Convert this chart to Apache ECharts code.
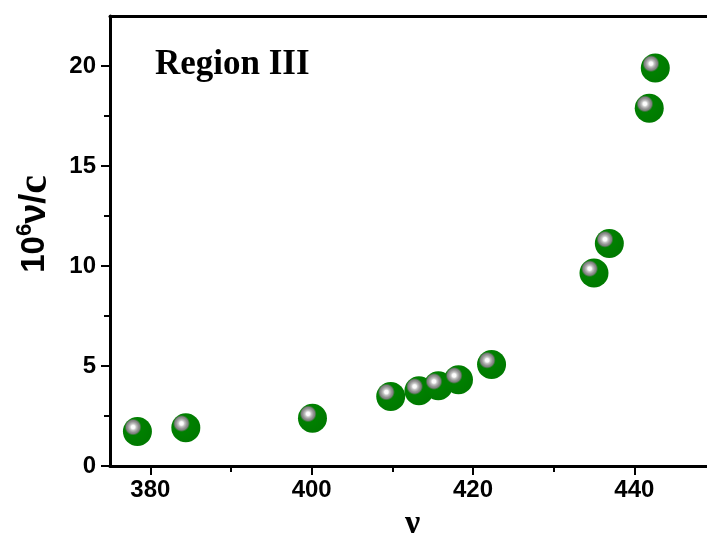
<!DOCTYPE html>
<html>
<head>
<meta charset="utf-8">
<script src="https://cdn.jsdelivr.net/npm/echarts@6/dist/echarts.min.js"></script>
<style>
  html, body { margin: 0; padding: 0; background: #fff; }
  #chart { width: 707px; height: 544px; }
</style>
</head>
<body>
<div id="chart"></div>
<script>
// data
const nu = [378.4, 384.4, 400.1, 409.8, 413.3, 415.7, 418.2, 422.3, 435.0, 436.9, 441.85, 442.6]
const ratio = [1.73, 1.91, 2.39, 3.48, 3.76, 4.01, 4.31, 5.07, 9.65, 11.12, 17.89, 19.9]

const xTicks = [380, 400, 420, 440]
const xMinor = [390, 410, 430]
const yTicks = [0, 5, 10, 15, 20]
const yMinor = [2.5, 7.5, 12.5, 17.5]

const chart = echarts.init(document.getElementById('chart'))

const sans = 'Liberation Sans, Arial, sans-serif'
const serif = 'Liberation Serif, Times New Roman, serif'

// green ball with a grey highlight up-left
const sphere = {
  type: 'radial', x: 0.35, y: 0.35, r: 0.62,
  colorStops: [
    { offset: 0, color: '#ffffff' },
    { offset: 0.1, color: '#fafafa' },
    { offset: 0.18, color: '#c4c4c4' },
    { offset: 0.3, color: '#939393' },
    { offset: 0.37, color: '#808080' },
    { offset: 0.42, color: '#3a7a3a' },
    { offset: 0.47, color: '#008000' },
    { offset: 1, color: '#007a00' }
  ]
}

const lineStyle = { color: '#000', width: 3 }

chart.setOption({
  animation: false,
  grid: { left: 110, top: 16, width: 605, bottom: 78, outerBoundsMode: 'none', containLabel: false },
  xAxis: [
    {
      type: 'value', min: 375, max: 450, position: 'bottom',
      name: 'ν', nameLocation: 'middle', nameGap: 38,
      nameTextStyle: { fontFamily: serif, fontWeight: 'bold', fontSize: 34, color: '#000' },
      axisLine: { show: true, onZero: false, lineStyle },
      axisTick: { show: true, customValues: xTicks, length: 9, lineStyle: { color: '#000', width: 2 } },
      axisLabel: { customValues: xTicks, margin: 12, fontFamily: sans, fontWeight: 'bold', fontSize: 24, color: '#000' },
      splitLine: { show: false }
    },
    {
      // minor ticks
      type: 'value', min: 375, max: 450, position: 'bottom',
      axisLine: { show: false },
      axisTick: { show: true, customValues: xMinor, length: 6, lineStyle: { color: '#000', width: 2 } },
      axisLabel: { show: false },
      splitLine: { show: false }
    },
    {
      type: 'value', min: 375, max: 450, position: 'top',
      axisLine: { show: true, onZero: false, lineStyle },
      axisTick: { show: false }, axisLabel: { show: false }, splitLine: { show: false }
    }
  ],
  yAxis: [
    {
      type: 'value', min: 0, max: 22.5, position: 'left',
      name: '{n|10}{s|6}{v|ν/}{c|c}', nameLocation: 'middle', nameGap: 54,
      nameTextStyle: {
        padding: [0, 0, 0, 34],
        rich: {
          n: { fontFamily: sans, fontWeight: 'bold', fontSize: 33, color: '#000' },
          s: { fontFamily: sans, fontWeight: 'bold', fontSize: 22, color: '#000', verticalAlign: 'top', padding: [0, 0, 16, 0] },
          v: { fontFamily: sans, fontWeight: 'bold', fontSize: 36, color: '#000' },
          c: { fontFamily: serif, fontWeight: 'bold', fontSize: 42, color: '#000' }
        }
      },
      axisLine: { show: true, onZero: false, lineStyle },
      axisTick: { show: true, customValues: yTicks, length: 9, lineStyle: { color: '#000', width: 2 } },
      axisLabel: { customValues: yTicks, margin: 14, fontFamily: sans, fontWeight: 'bold', fontSize: 24, color: '#000' },
      splitLine: { show: false }
    },
    {
      type: 'value', min: 0, max: 22.5, position: 'left',
      axisLine: { show: false },
      axisTick: { show: true, customValues: yMinor, length: 6, lineStyle: { color: '#000', width: 2 } },
      axisLabel: { show: false },
      splitLine: { show: false }
    },
    {
      type: 'value', min: 0, max: 22.5, position: 'right',
      axisLine: { show: true, onZero: false, lineStyle },
      axisTick: { show: false }, axisLabel: { show: false }, splitLine: { show: false }
    }
  ],
  graphic: [
    {
      type: 'text', left: 155, top: 47,
      style: { text: 'Region III', font: 'bold 35px ' + serif, fill: '#000' }
    }
  ],
  series: [
    {
      type: 'scatter',
      data: nu.map((x, i) => [x, ratio[i]]),
      symbol: 'circle',
      symbolSize: 29,
      itemStyle: { color: sphere, opacity: 1 },
      emphasis: { disabled: true }
    }
  ]
})
</script>
</body>
</html>
